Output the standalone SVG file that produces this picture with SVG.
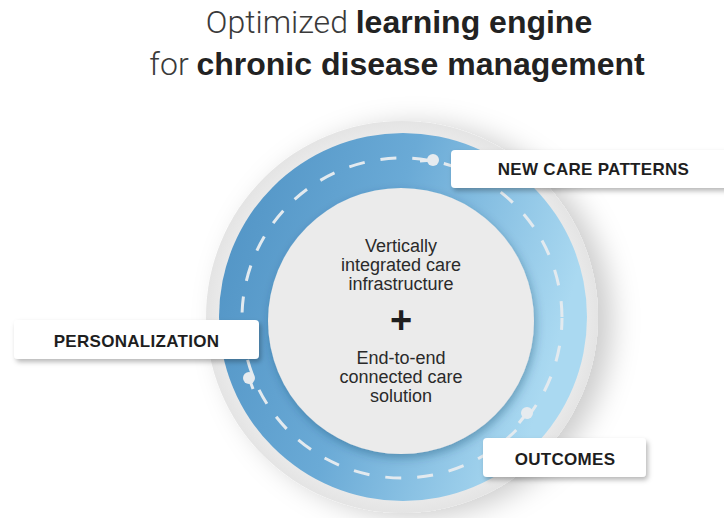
<svg xmlns="http://www.w3.org/2000/svg" width="724" height="518" viewBox="0 0 724 518">
<defs>
<style>
.t{font-family:"Liberation Sans",Arial,sans-serif;fill:#222;}
.lt{font-family:Roboto,"Liberation Sans",sans-serif;font-weight:300;fill:#3a3a3a;}
.b{font-weight:bold;}
.lbl{font-family:"Liberation Sans",Arial,sans-serif;font-weight:bold;font-size:17px;letter-spacing:0.3px;fill:#1e1e1e;text-anchor:middle;}
.ctr{font-family:"Liberation Sans",Arial,sans-serif;font-size:18px;fill:#2a2a2a;text-anchor:middle;}
.box{fill:#fff;filter:url(#sh);}
.dot{fill:#e6ebef;}
.stub{stroke:#e6ebef;stroke-width:3;fill:none;}
</style>
<linearGradient id="blue" x1="0" y1="0" x2="1" y2="0.3">
<stop offset="0" stop-color="#4e91c3"/>
<stop offset="0.5" stop-color="#6aaad6"/>
<stop offset="1" stop-color="#aad9f1"/>
</linearGradient>
<radialGradient id="outer" cx="0.5" cy="0.5" r="0.5">
<stop offset="0.9" stop-color="#ececec"/>
<stop offset="1" stop-color="#e4e4e4"/>
</radialGradient>
<filter id="sh" x="-20%" y="-30%" width="140%" height="170%">
<feDropShadow dx="2" dy="3" stdDeviation="2.5" flood-color="#000" flood-opacity="0.28"/>
</filter>
<filter id="csh" x="-20%" y="-20%" width="150%" height="140%">
<feDropShadow dx="14" dy="4" stdDeviation="14" flood-color="#000" flood-opacity="0.2"/>
</filter>
<filter id="ish" x="-20%" y="-20%" width="140%" height="140%">
<feDropShadow dx="2" dy="4" stdDeviation="5" flood-color="#0a3a60" flood-opacity="0.35"/>
</filter>
</defs>
<rect width="724" height="518" fill="#fff"/>

<g id="title">
<text x="399" y="33" font-size="32" text-anchor="middle" class="t"><tspan class="lt">Optimized </tspan><tspan class="b">learning engine</tspan></text>
<text x="397" y="75" font-size="32" text-anchor="middle" class="t"><tspan class="lt">for </tspan><tspan class="b">chronic disease management</tspan></text>
</g>

<g id="engine">
<circle cx="402" cy="317" r="196" fill="url(#outer)" filter="url(#csh)"/>
<circle cx="403" cy="317" r="184" fill="url(#blue)"/>
<circle cx="401" cy="321" r="133" fill="#ebebeb" filter="url(#ish)"/>
</g>

<g id="connectors">
<circle cx="402" cy="318" r="160" fill="none" stroke="#e3eaef" stroke-width="3" stroke-dasharray="16 16" stroke-dashoffset="4"/>
<path class="stub" d="M420 161 L433 160"/>
<circle class="dot" cx="433" cy="160" r="6"/>
<path class="stub" d="M249 378 L253 389"/>
<circle class="dot" cx="249" cy="378" r="6"/>
<path class="stub" d="M527 413 L519 423"/>
<circle class="dot" cx="527" cy="413" r="6"/>
</g>

<g id="center-text">
<text class="ctr" x="401" y="252">Vertically</text>
<text class="ctr" x="401" y="271">integrated care</text>
<text class="ctr" x="401" y="290">infrastructure</text>
<text x="401" y="333" font-family="Liberation Sans,Arial,sans-serif" font-weight="bold" font-size="38" fill="#1e1e1e" text-anchor="middle">+</text>
<text class="ctr" x="401" y="364">End-to-end</text>
<text class="ctr" x="401" y="383">connected care</text>
<text class="ctr" x="401" y="402">solution</text>
</g>

<g id="node-new-care-patterns">
<rect class="box" x="451" y="150" width="290" height="38" rx="4"/>
<text class="lbl" x="593.5" y="175">NEW CARE PATTERNS</text>
</g>

<g id="node-personalization">
<rect class="box" x="14" y="320" width="245" height="39" rx="4"/>
<text class="lbl" x="136.5" y="347">PERSONALIZATION</text>
</g>

<g id="node-outcomes">
<rect class="box" x="483" y="438" width="163" height="39" rx="4"/>
<text class="lbl" x="565" y="465">OUTCOMES</text>
</g>
</svg>
